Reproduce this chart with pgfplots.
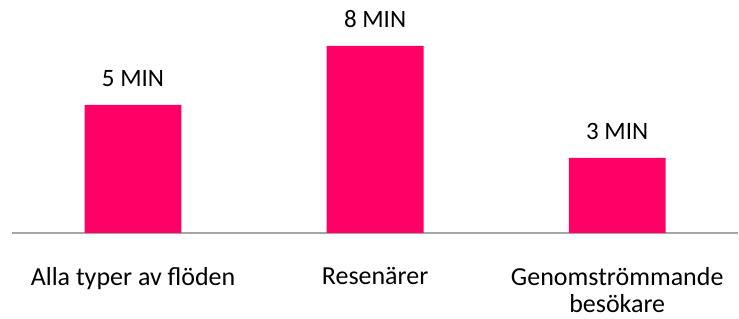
\documentclass[border=0pt]{standalone}
\usepackage{pgfplots}
\pgfplotsset{compat=1.18}
\usepackage{fontspec}
\setmainfont{Carlito}
\definecolor{barpink}{HTML}{FF0066}
\definecolor{axgray}{HTML}{A6A6A6}
\begin{document}
\begin{tikzpicture}
\begin{axis}[
  scale only axis,
  width=727pt, height=233pt,
  xmin=-0.5, xmax=2.5,
  ymin=0, ymax=9.32,
  axis y line=none,
  axis x line*=bottom,
  x axis line style={axgray, line width=1.5pt, -},
  xtick={0,1,2},
  xticklabels={Alla typer av flöden, Resenärer, Genomströmmande\\besökare},
  xticklabel style={align=center, font=\fontsize{26}{27.5}\selectfont, yshift=-31pt, text depth=0pt},
  major tick length=0pt,
  ybar, bar width=97pt,
  point meta=explicit symbolic,
  nodes near coords,
  every node near coord/.append style={font=\fontsize{25}{29}\selectfont, black, yshift=15pt},
  clip=false,
]
\addplot[fill=barpink, draw=none] table[meta=label] {
x y label
0 5.12 {5 MIN}
1 7.48 {8 MIN}
2 3.0 {3 MIN}
};
\end{axis}
\path[use as bounding box] (current axis.south west) ++(-12pt,-86pt) rectangle ([yshift=0pt]current axis.north east);
\end{tikzpicture}
\end{document}
